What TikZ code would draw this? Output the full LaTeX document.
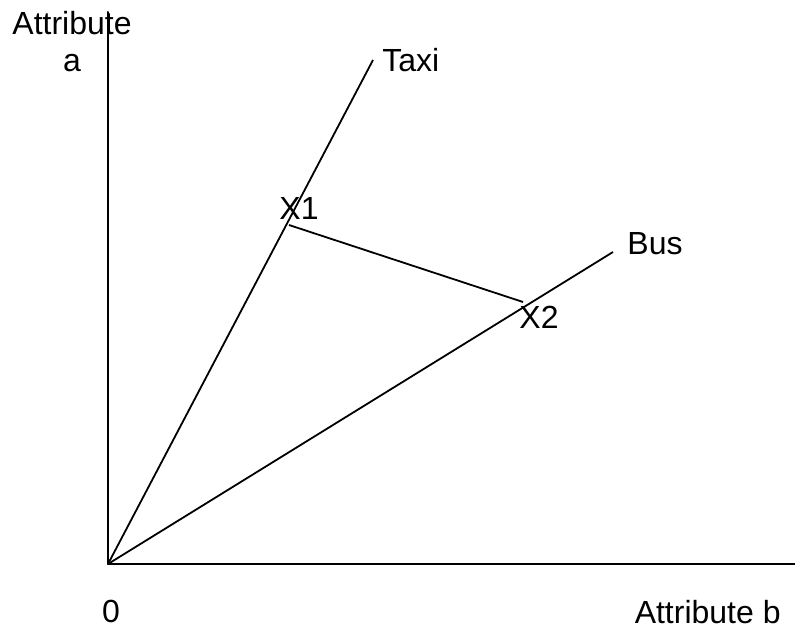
\documentclass[tikz,border=0pt]{standalone}
\usepackage{fontspec}
\setmainfont{Liberation Sans}
\usepackage{tikz}
\usetikzlibrary{positioning}
\tikzset{
  axisline/.style={line width=1pt, draw=black, line cap=round},
  modeline/.style={line width=0.9pt, draw=black},
  lbl/.style={inner sep=0pt, font=\fontsize{16}{18.5}\selectfont}
}
\begin{document}
\begin{tikzpicture}[x=0.5pt, y=-0.5pt]
  \useasboundingbox (0,0) rectangle (795,630);
  \coordinate (o) at (108,564);
  \coordinate (ytop) at (108,12);
  \coordinate (xend) at (795,564);
  \coordinate (taxi) at (373,60);
  \coordinate (bus) at (613,252);
  \coordinate (x1) at (289,225);
  \coordinate (x2) at (523,302);
  % axes
  \draw[axisline] (o) -- (ytop);
  \draw[axisline] (o) -- (xend);
  % rays
  \draw[modeline] (o) -- (taxi);
  \draw[modeline] (o) -- (bus);
  \draw[modeline] (x1) -- (x2);
  % labels
  \node[lbl, align=center, anchor=base] (ya) at (72,72) {Attribute\\a};
  \node[lbl, anchor=base west] (taxilbl) at (382,72) {Taxi};
  \node[lbl, anchor=base west] (buslbl) at (627,255) {Bus};
  \node[lbl, anchor=base west] (x1lbl) at (279,220) {X1};
  \node[lbl, anchor=base west] (x2lbl) at (519,328) {X2};
  \node[lbl, anchor=base] (zero) at (111,622) {0};
  \node[lbl, anchor=base east] (xb) at (781,623) {Attribute b};
\end{tikzpicture}
\end{document}
